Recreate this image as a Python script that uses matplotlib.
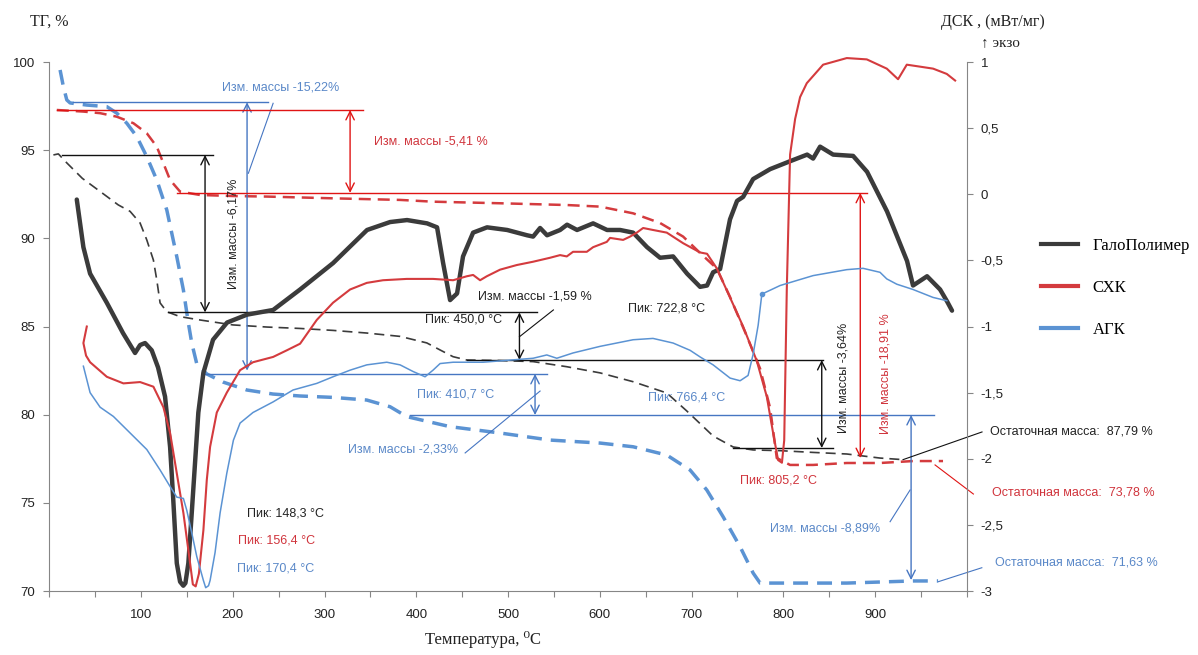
import numpy as np
import matplotlib
matplotlib.use('Agg')
import matplotlib.pyplot as plt
from matplotlib.lines import Line2D
from matplotlib.ticker import FuncFormatter

SANS = ['Liberation Sans', 'DejaVu Sans']
SERIF = ['Liberation Serif', 'DejaVu Serif']
plt.rcParams['font.family'] = SANS

# --- DSC curves (mW/mg) vs temperature (C) ---
bk_T = [29.9, 37.1, 44.4, 62.6, 80.3, 93.4, 98.9, 104.3, 111.6, 118.5,
        126.1, 131.6, 134.9, 138.9, 142.5, 146.0, 148.3, 151.5, 155.2, 158.8,
        162.4, 167.9, 178.4, 193.7, 215.5, 243.9, 273.3, 309.3, 346.3, 371.4,
        389.9, 411.7, 422.6, 429.2, 436.8, 444.4, 450.9, 461.9, 477.1, 499.0,
        520.7, 527.3, 534.9, 542.5, 556.7, 564.3, 575.2, 592.7, 607.9, 622.1,
        636.3, 651.5, 665.7, 679.9, 695.1, 709.3, 716.9, 723.5, 731.1, 741.9,
        749.6, 756.2, 767.1, 785.6, 807.4, 826.0, 832.5, 840.1, 854.3, 876.1,
        891.3, 913.1, 934.9, 941.4, 956.7, 970.9, 978.5, 983.9]
bk_dsc = [-0.04, -0.40, -0.60, -0.82, -1.05, -1.20, -1.14, -1.125, -1.18, -1.31,
          -1.53, -1.91, -2.29, -2.79, -2.93, -2.96, -2.94, -2.79, -2.41, -2.03,
          -1.65, -1.35, -1.10, -0.97, -0.91, -0.875, -0.72, -0.52, -0.27, -0.21,
          -0.195, -0.22, -0.25, -0.52, -0.80, -0.75, -0.47, -0.29, -0.25, -0.27,
          -0.31, -0.32, -0.255, -0.31, -0.27, -0.23, -0.27, -0.22, -0.27, -0.27,
          -0.29, -0.40, -0.48, -0.47, -0.60, -0.70, -0.69, -0.59, -0.565, -0.19,
          -0.05, -0.02, 0.115, 0.19, 0.25, 0.30, 0.27, 0.36, 0.30, 0.29,
          0.17, -0.13, -0.505, -0.69, -0.62, -0.72, -0.81, -0.88]

rd_T = [40.8, 37.1, 40.0, 44.4, 62.6, 80.7, 98.9, 113.4, 124.3, 131.6,
        138.9, 146.1, 153.4, 156.4, 159.5, 163.0, 165.5, 167.9, 171.6, 175.2,
        182.5, 193.4, 207.9, 222.0, 243.9, 258.8, 273.3, 291.5, 309.2, 327.8,
        346.0, 363.7, 389.6, 418.2, 440.1, 455.0, 461.9, 469.5, 476.8, 491.3,
        509.5, 527.3, 545.8, 556.7, 564.0, 570.8, 585.8, 592.7, 607.6, 611.2,
        625.4, 633.0, 640.3, 647.2, 658.0, 673.0, 690.8, 709.3, 716.9, 727.5,
        741.9, 756.2, 771.1, 782.0, 788.9, 794.3, 798.5, 801.0, 803.8, 807.4,
        812.9, 818.3, 825.6, 843.4, 869.2, 891.0, 912.8, 925.1, 934.6, 949.1,
        963.3, 978.2, 987.3]
rd_dsc = [-1.00, -1.125, -1.22, -1.27, -1.38, -1.43, -1.42, -1.455, -1.61, -1.805,
          -2.11, -2.41, -2.79, -2.95, -2.965, -2.87, -2.70, -2.54, -2.16, -1.91,
          -1.65, -1.50, -1.33, -1.27, -1.23, -1.18, -1.13, -0.95, -0.82, -0.72,
          -0.67, -0.65, -0.64, -0.64, -0.65, -0.62, -0.61, -0.65, -0.62, -0.57,
          -0.535, -0.51, -0.48, -0.46, -0.47, -0.435, -0.435, -0.40, -0.36, -0.33,
          -0.345, -0.32, -0.29, -0.255, -0.27, -0.29, -0.37, -0.44, -0.45, -0.56,
          -0.78, -1.00, -1.26, -1.53, -1.805, -2.01, -2.03, -1.86, -0.72, 0.30,
          0.57, 0.735, 0.84, 0.98, 1.03, 1.02, 0.95, 0.87, 0.98, 0.965,
          0.95, 0.91, 0.86]

bl_T = [37.1, 44.4, 55.3, 69.8, 88.0, 106.2, 120.7, 131.6, 138.9, 146.1,
        149.8, 155.2, 160.7, 167.9, 170.4, 173.5, 175.2, 180.6, 186.1, 193.4,
        200.6, 207.9, 222.0, 243.9, 265.6, 291.5, 309.2, 327.8, 346.0, 367.8,
        382.3, 396.4, 409.5, 418.2, 425.9, 440.1, 472.8, 509.5, 527.3, 542.2,
        553.1, 570.8, 600.3, 636.3, 658.0, 679.9, 698.4, 709.3, 723.5, 742.0,
        752.9, 761.6, 767.1, 772.6, 776.6, 796.5, 832.5, 869.2, 886.9, 905.4,
        912.8, 923.7, 941.4, 963.2, 978.2]
bl_dsc = [-1.30, -1.50, -1.61, -1.68, -1.805, -1.93, -2.085, -2.21, -2.29, -2.30,
          -2.39, -2.56, -2.74, -2.92, -2.975, -2.96, -2.92, -2.71, -2.41, -2.11,
          -1.86, -1.73, -1.65, -1.57, -1.48, -1.43, -1.38, -1.33, -1.29, -1.27,
          -1.29, -1.34, -1.38, -1.33, -1.28, -1.27, -1.27, -1.25, -1.24, -1.215,
          -1.24, -1.20, -1.15, -1.10, -1.09, -1.125, -1.18, -1.23, -1.29, -1.39,
          -1.41, -1.37, -1.21, -0.99, -0.755, -0.69, -0.615, -0.57, -0.56, -0.59,
          -0.64, -0.68, -0.72, -0.78, -0.805]

# --- TG curves (%) vs temperature (C) ---
bkt_T = [4.4, 9.8, 19.0, 36.0, 55.3, 75.0, 88.0, 98.9, 106.2, 113.4,
         117.1, 120.7, 128.0, 142.5, 164.3, 200.2, 237.3, 273.3, 309.2, 346.0,
         382.3, 411.4, 425.9, 440.0, 455.0, 491.3, 527.3, 564.0, 600.3, 636.3,
         673.0, 694.8, 723.5, 745.3, 767.1, 796.5, 832.5, 869.2, 905.4, 930.5]
bkt_tg = [94.73, 94.79, 94.28, 93.40, 92.66, 91.90, 91.53, 90.87, 89.91, 88.77,
          87.64, 86.34, 85.84, 85.56, 85.37, 85.09, 84.97, 84.89, 84.78, 84.63,
          84.44, 84.07, 83.67, 83.29, 83.10, 83.07, 83.01, 82.72, 82.37, 81.87,
          81.23, 80.21, 78.79, 78.17, 78.00, 77.96, 77.86, 77.77, 77.54, 77.45]

rdt_T = [8.1, 37.1, 55.3, 73.5, 91.6, 106.2, 117.1, 124.3, 131.6, 142.5,
         164.3, 200.2, 237.0, 309.2, 382.3, 418.2, 491.3, 564.0, 600.3, 636.3,
         665.7, 690.8, 709.3, 727.5, 741.9, 760.2, 774.7, 785.6, 792.9, 807.4,
         832.5, 869.2, 905.4, 941.4, 974.1]
rdt_tg = [97.28, 97.19, 97.10, 96.90, 96.53, 95.96, 95.20, 94.26, 93.31, 92.65,
          92.46, 92.40, 92.37, 92.27, 92.18, 92.08, 91.99, 91.89, 91.80, 91.42,
          90.87, 90.10, 89.17, 88.29, 86.68, 84.46, 82.61, 80.38, 77.54, 77.15,
          77.15, 77.26, 77.26, 77.37, 77.37]

blt_T = [11.7, 15.3, 19.0, 22.6, 40.8, 62.6, 73.5, 84.4, 95.3, 106.2,
         117.1, 128.0, 138.9, 146.1, 151.5, 155.2, 160.7, 171.6, 189.3, 215.2,
         243.8, 273.3, 309.2, 346.0, 371.4, 389.6, 436.8, 491.3, 545.8, 600.3,
         636.3, 673.0, 698.4, 716.6, 734.4, 752.9, 767.1, 774.7, 796.5, 869.2,
         941.4, 968.7]
blt_tg = [99.55, 98.60, 97.85, 97.68, 97.56, 97.47, 97.10, 96.53, 95.77, 94.63,
          93.31, 91.61, 88.96, 87.07, 85.20, 84.07, 82.88, 82.31, 81.85, 81.40,
          81.17, 81.06, 80.98, 80.83, 80.45, 79.89, 79.32, 78.96, 78.56, 78.39,
          78.18, 77.71, 76.86, 75.73, 74.21, 72.51, 71.02, 70.45, 70.45, 70.45,
          70.57, 70.57]

series_names = ['ГалоПолимер', 'СХК', 'АГК']
x_ticks = list(range(0, 1001, 50))
x_labels = [str(t) if t % 100 == 0 and 0 < t < 1000 else '' for t in x_ticks]
tg_ticks = [70, 75, 80, 85, 90, 95, 100]
dsc_ticks = [-3, -2.5, -2, -1.5, -1, -0.5, 0, 0.5, 1]

BLACK, RED, BLUE = '#3b3b3b', '#d43b3e', '#5b93d3'
A_BLACK, A_RED, A_BLUE = '#111111', '#e01414', '#4676c2'
T_BLACK, T_RED, T_BLUE = '#222222', '#d0343c', '#5a88c8'
GREY = '#868686'

fig = plt.figure(figsize=(11.98, 6.55), dpi=100)
ax = fig.add_axes([0.0412, 0.0977, 0.7658, 0.8076])
ax2 = ax.twinx()

# TG (dashed, left axis)
ax.plot(bkt_T, bkt_tg, color=BLACK, lw=1.2, dashes=(6, 3.6))
ax.plot(rdt_T, rdt_tg, color=RED, lw=1.8, dashes=(4.8, 2.8))
ax.plot(blt_T, blt_tg, color=BLUE, lw=2.5, dashes=(4.3, 2.6))

# DSC (solid, right axis)
ax2.plot(bk_T, bk_dsc, color=BLACK, lw=3.2, solid_joinstyle='round',
         solid_capstyle='round')
ax2.plot(rd_T, rd_dsc, color=RED, lw=1.5, clip_on=False)
ax2.plot(bl_T, bl_dsc, color=BLUE, lw=1.1, marker='o', ms=3,
         markevery=[54])

ax.set_xlim(0, 1000)
ax.set_ylim(70, 100)
ax2.set_ylim(-3, 1)
ax.set_xticks(x_ticks)
ax.set_xticklabels(x_labels)
ax.set_yticks(tg_ticks)
ax2.set_yticks(dsc_ticks)
ax2.yaxis.set_major_formatter(
    FuncFormatter(lambda v, p: ('%g' % v).replace('.', ',')))

for a in (ax, ax2):
    a.spines['top'].set_visible(False)
    for s in a.spines.values():
        s.set_color(GREY)
ax.spines['right'].set_visible(False)
ax2.spines['left'].set_visible(False)
ax2.spines['bottom'].set_visible(False)

ax.tick_params(axis='x', direction='out', length=4, color=GREY, pad=9,
               labelsize=9.5, labelcolor='#222222')
ax.tick_params(axis='y', direction='out', length=4, color=GREY, pad=6,
               labelsize=9.5, labelcolor='#222222')
ax2.tick_params(axis='y', direction='out', length=4, color=GREY, pad=6,
                labelsize=9.5, labelcolor='#222222')


def hline(x0, x1, y, c):
    ax.plot([x0, x1], [y, y], color=c, lw=1, clip_on=False, zorder=3)


def leader(x0, y0, x1, y1, c):
    ax.plot([x0, x1], [y0, y1], color=c, lw=0.8, clip_on=False, zorder=3)


def darrow(x, y0, y1, c):
    ax.annotate('', xy=(x, y1), xytext=(x, y0), annotation_clip=False,
                arrowprops=dict(arrowstyle='<->,head_length=0.6,head_width=0.3',
                                color=c, lw=1, shrinkA=0, shrinkB=0,
                                mutation_scale=10))


def label(x, y, s, c, rot=0, ha='left'):
    ax.text(x, y, s, color=c, fontsize=9, rotation=rot, ha=ha,
            va='center', zorder=4, clip_on=False)


# blue annotations
hline(26.2, 238.4, 97.72, A_BLUE)
leader(243.9, 97.66, 216.9, 93.69, A_BLUE)
darrow(215.5, 97.72, 82.5, A_BLUE)
hline(167.0, 542.5, 82.31, A_BLUE)
darrow(529.4, 82.31, 79.98, A_BLUE)
leader(453.2, 77.83, 534.9, 81.34, A_BLUE)
hline(393.2, 964.4, 79.98, A_BLUE)
darrow(939.3, 79.98, 70.62, A_BLUE)
leader(916.4, 73.93, 938.2, 75.73, A_BLUE)
leader(969.1, 70.53, 1016.4, 71.32, A_BLUE)

# black annotations
hline(13.5, 178.8, 94.73, A_BLACK)
darrow(169.7, 94.73, 85.80, A_BLACK)
hline(129.4, 531.6, 85.80, A_BLACK)
darrow(512.4, 85.80, 83.10, A_BLACK)
leader(512.4, 84.42, 549.4, 85.94, A_BLACK)
hline(455.0, 843.4, 83.10, A_BLACK)
darrow(841.9, 83.10, 78.11, A_BLACK)
hline(745.3, 854.3, 78.11, A_BLACK)
leader(930.5, 77.45, 1016.6, 79.02, A_BLACK)

# red annotations
hline(8.1, 342.3, 97.28, A_RED)
darrow(327.8, 97.28, 92.58, A_RED)
hline(138.9, 891.0, 92.58, A_RED)
darrow(883.9, 92.58, 77.54, A_RED)
leader(965.4, 77.15, 1007.2, 75.50, A_RED)

label(188.2, 98.55, 'Изм. массы -15,22%', T_BLUE)
label(353.9, 95.47, 'Изм. массы -5,41 %', T_RED)
label(200.2, 90.28, 'Изм. массы -6,17%', T_BLACK, rot=90, ha='center')
label(467.3, 86.68, 'Изм. массы -1,59 %', T_BLACK)
label(409.5, 85.37, 'Пик: 450,0 °C', T_BLACK)
label(630.8, 86.05, 'Пик: 722,8 °C', T_BLACK)
label(400.8, 81.12, 'Пик: 410,7 °C', T_BLUE)
label(652.6, 80.95, 'Пик: 766,4 °C', T_BLUE)
label(325.6, 78.05, 'Изм. массы -2,33%', T_BLUE)
label(865.2, 82.08, 'Изм. массы -3,64%', T_BLACK, rot=90, ha='center')
label(911.0, 82.31, 'Изм. массы -18,91 %', T_RED, rot=90, ha='center')
label(1025.4, 79.02, 'Остаточная масса:  87,79 %', T_BLACK)
label(752.9, 76.24, 'Пик: 805,2 °C', T_RED)
label(1027.5, 75.56, 'Остаточная масса:  73,78 %', T_RED)
label(785.6, 73.57, 'Изм. массы -8,89%', T_BLUE)
label(1030.8, 71.64, 'Остаточная масса:  71,63 %', T_BLUE)
label(215.5, 74.42, 'Пик: 148,3 °C', T_BLACK)
label(205.7, 72.89, 'Пик: 156,4 °C', T_RED)
label(204.6, 71.25, 'Пик: 170,4 °C', T_BLUE)

# axis titles
fig.text(30 / 1198, 1 - 22 / 655, 'ТГ, %', family=SERIF, fontsize=11.5,
         ha='left', va='center', color='#222222')
fig.text(993 / 1198, 1 - 22 / 655, 'ДСК , (мВт/мг)', family=SERIF,
         fontsize=11.5, ha='center', va='center', color='#222222')
fig.text(1000 / 1198, 1 - 43 / 655, '↑ экзо', family=SERIF, fontsize=11,
         ha='center', va='center', color='#222222')
fig.text(483 / 1198, 1 - 640 / 655, 'Температура, ⁰С', family=SERIF,
         fontsize=12, ha='center', va='center', color='#222222')

# legend
handles = [Line2D([], [], color=c, lw=3) for c in (BLACK, RED, BLUE)]
fig.legend(handles, series_names, loc='center left',
           bbox_to_anchor=(1041 / 1198, 1 - 288 / 655), frameon=False,
           prop={'family': SERIF, 'size': 12}, handlelength=2.2,
           handletextpad=0.9, labelspacing=1.55, borderpad=0,
           borderaxespad=0)

fig.savefig('out.png', dpi=100)
